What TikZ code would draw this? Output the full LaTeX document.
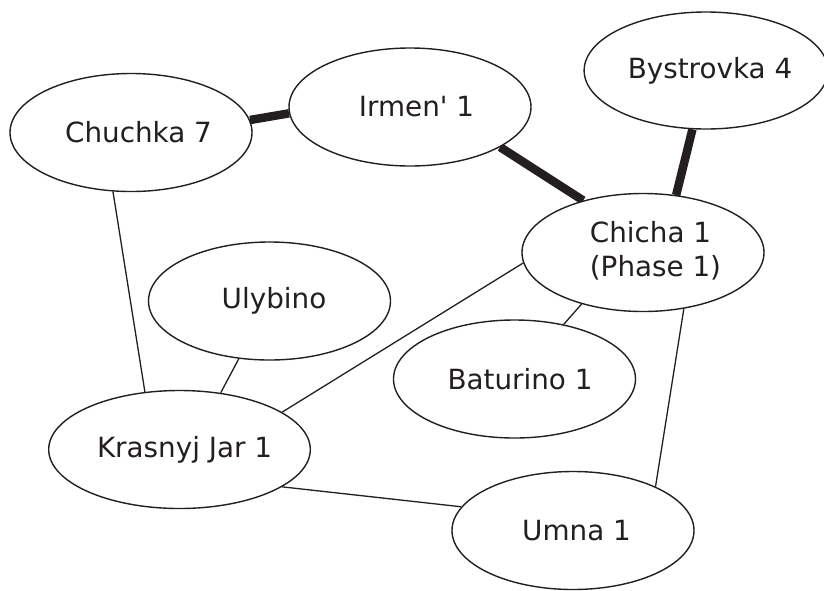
\documentclass[tikz,border=0pt]{standalone}
\usepackage{fontspec}
\newfontfamily\sitefont{DejaVu Sans}
\usetikzlibrary{shapes.geometric,backgrounds}
\definecolor{ink}{RGB}{35,31,32}
\begin{document}
\begin{tikzpicture}[x=1pt,y=-1pt,
  site/.style={ellipse,draw=ink,fill=white,line width=1.4pt,
    minimum width=242pt,minimum height=118pt,inner sep=0pt,
    font=\sitefont\fontsize{27.8}{34.5}\selectfont,text=ink},
  link/.style={draw=ink,line width=1.3pt},
  strong/.style={draw=ink,line width=8.5pt}]
\useasboundingbox (0,0) rectangle (824,590);
\node[site] (chuchka) at (131,132.5) {\hspace*{15pt}Chuchka 7};
\node[site] (irmen) at (410,107) {\hspace*{13pt}Irmen' 1};
\node[site,minimum width=234pt,minimum height=117pt] (bystrovka) at (706,70.5) {\hspace*{8pt}Bystrovka 4};
\node[site] (chicha) at (643,252.5) {\hspace*{25pt}\begin{tabular}{@{}l@{}}Chicha 1\\(Phase 1)\end{tabular}};
\node[site] (ulybino) at (269.5,301) {\hspace*{9pt}Ulybino};
\node[site] (baturino) at (514.5,379) {\hspace*{11pt}Baturino 1};
\node[site] (krasnyj) at (179.5,449.5) {\hspace*{10pt}Krasnyj Jar 1};
\node[site] (umna) at (573,530.5) {\hspace*{7pt}Umna 1};
\begin{scope}[on background layer]
\draw[strong] (chuchka.6) -- (irmen.183);
\draw[strong] (irmen.-24.7) -- (chicha.139.3);
\draw[strong] (bystrovka.257.7) -- (chicha.60.9);
\draw[link] (chuchka.253.2) -- (krasnyj.121);
\draw[link] (ulybino.242.6) -- (krasnyj.54.4);
\draw[link] (chicha.185.9) -- (krasnyj.20);
\draw[link] (chicha.220.7) -- (baturino.48.7);
\draw[link] (chicha.306.8) -- (umna.28.2);
\draw[link] (krasnyj.340.2) -- (umna.168.5);
\end{scope}
\end{tikzpicture}
\end{document}
